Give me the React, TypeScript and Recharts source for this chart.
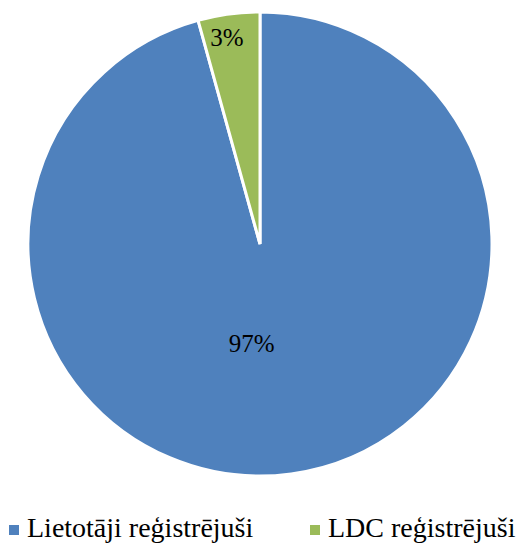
import React from 'react';
import { PieChart, Pie, Cell, Legend } from 'recharts';

const categories = ['Lietotāji reģistrējuši', 'LDC reģistrējuši'];
const shares = [95.7, 4.3];
const shareLabels = ['97%', '3%'];
const colors = ['#4f81bd', '#9bbb59'];

const data = categories.map((name, i) => ({ name, value: shares[i], label: shareLabels[i] }));

const FONT = "'Liberation Serif', 'Times New Roman', serif";
const RAD = Math.PI / 180;
const legendLeft = [9, 310];

const renderLabel = (props: any) => {
  const { cx, cy, midAngle, outerRadius, index, percent } = props;
  // small slice: near the rim; big slice: inner, nudged like Excel's best fit
  const small = percent < 0.1;
  const r = small ? outerRadius * 0.9 : outerRadius * 0.43;
  const a = small ? midAngle + 1.4 : midAngle - 12.5;
  const x = cx + r * Math.cos(-a * RAD);
  const y = cy + r * Math.sin(-a * RAD);
  return (
    <text x={x} y={y} textAnchor="middle" dominantBaseline="central" fill="#000" fontSize={25} fontFamily={FONT}>
      {data[index].label}
    </text>
  );
};

const renderLegend = () => (
  <div style={{ position: 'relative', height: 34, fontFamily: FONT, fontSize: 28, color: '#000' }}>
    {data.map((d, i) => (
      <div key={d.name} style={{ position: 'absolute', left: legendLeft[i], top: 0, display: 'flex', alignItems: 'center', whiteSpace: 'nowrap' }}>
        <span style={{ width: 10, height: 10, background: colors[i], display: 'inline-block', marginRight: 8, marginTop: 4 }} />
        <span>{d.name}</span>
      </div>
    ))}
  </div>
);

export default function App() {
  return (
    <div style={{ position: 'absolute', left: 0, top: 0, background: '#fff' }}>
      <PieChart width={523} height={546} margin={{ top: 0, right: 0, bottom: 0, left: 0 }}>
        <Pie
          data={data}
          dataKey="value"
          nameKey="name"
          cx={260}
          cy={244}
          outerRadius={232}
          startAngle={90}
          endAngle={-270}
          stroke="#fff"
          strokeWidth={3}
          label={renderLabel}
          labelLine={false}
          isAnimationActive={false}
        >
          {data.map((d, i) => (
            <Cell key={d.name} fill={colors[i]} />
          ))}
        </Pie>
        <Legend
          verticalAlign="bottom"
          align="left"
          content={renderLegend}
          wrapperStyle={{ left: 0, bottom: 0, width: 523 }}
        />
      </PieChart>
    </div>
  );
}
